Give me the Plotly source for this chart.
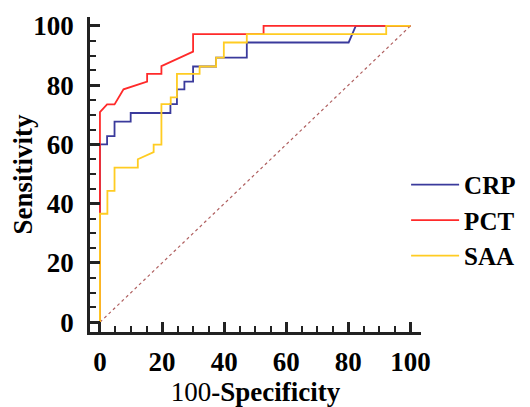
import plotly.graph_objects as go

# Reference (chance) line
ref_x = [0, 100]
ref_y = [0, 100]

# CRP ROC curve (100-Specificity, Sensitivity)
crp_x = [0, 0, 2.3, 2.3, 4.7, 4.7, 9.9, 9.9, 22.7, 22.7, 24.8, 24.8, 27.2, 27.2,
         30.0, 30.0, 37.4, 37.4, 47.3, 47.3, 80.1, 82.4, 100]
crp_y = [0, 60.0, 60.0, 62.8, 62.8, 67.7, 67.7, 70.6, 70.6, 73.6, 73.6, 78.6, 78.6, 81.2,
         81.2, 86.3, 86.3, 89.3, 89.3, 94.4, 94.4, 100, 100]

# PCT ROC curve
pct_x = [0, 0, 2.3, 4.7, 7.6, 15.2, 15.2, 19.8, 19.8, 30.0, 30.0, 52.7, 52.7, 100]
pct_y = [0, 70.9, 73.5, 73.5, 78.6, 81.2, 83.8, 83.8, 86.4, 91.3, 97.2, 97.2, 100, 100]

# SAA ROC curve
saa_x = [0, 0, 2.4, 2.4, 4.7, 4.7, 12.2, 12.2, 17.3, 17.3, 19.8, 19.8, 22.8, 22.8,
         24.8, 24.8, 32.1, 32.1, 37.4, 37.4, 39.9, 39.9, 47.3, 47.3, 92.2, 92.2, 100]
saa_y = [0, 36.6, 36.6, 44.3, 44.3, 52.2, 52.2, 55.0, 57.4, 59.9, 59.9, 73.6, 73.6, 75.9,
         75.9, 83.8, 83.8, 86.3, 86.3, 89.3, 89.3, 94.4, 94.4, 97.2, 97.2, 100, 100]

tick_vals = [0, 20, 40, 60, 80, 100]
tick_text = ["0", "20", "40", "60", "80", "100"]

FONT = "Liberation Serif, Times New Roman, DejaVu Serif, serif"

fig = go.Figure()
fig.add_trace(go.Scatter(x=ref_x, y=ref_y, mode="lines", showlegend=False,
                         line=dict(color="#b06060", width=1.2, dash="dot"),
                         hoverinfo="skip"))
fig.add_trace(go.Scatter(x=crp_x, y=crp_y, mode="lines", name="CRP",
                         line=dict(color="#3a3a9c", width=1.8)))
fig.add_trace(go.Scatter(x=pct_x, y=pct_y, mode="lines", name="PCT",
                         line=dict(color="#ff2a2a", width=1.8)))
fig.add_trace(go.Scatter(x=saa_x, y=saa_y, mode="lines", name="SAA",
                         line=dict(color="#ffcc22", width=1.8)))

axis_common = dict(
    showgrid=False, zeroline=False, showline=True, linecolor="#222222", linewidth=2.5,
    ticks="inside", ticklen=10, tickwidth=2.5, tickcolor="#222222",
    tickvals=tick_vals, ticktext=tick_text, automargin=False,
    tickfont=dict(family=FONT, size=27, color="black", weight="bold"),
    minor=dict(dtick=5, tick0=0, ticks="inside", ticklen=6, tickwidth=1.5, tickcolor="#222222"),
    mirror=False,
)

fig.update_xaxes(range=[-3.2, 103.4], ticklabelstandoff=4,
                 title=dict(text="100<b>-Specificity</b>", standoff=11,
                            font=dict(family=FONT, size=27, color="black")),
                 **axis_common)
fig.update_yaxes(range=[-3.3, 103.0], ticklabelstandoff=8,
                 title=dict(text="<b>Sensitivity</b>", standoff=10,
                            font=dict(family=FONT, size=27, color="black")),
                 **axis_common)

# page body has an 8px margin; size the figure so the plot area lands where the reference has it
fig.update_layout(
    width=522, height=399,
    margin=dict(l=82, r=106, t=9, b=75),
    paper_bgcolor="white", plot_bgcolor="white",
    font=dict(family=FONT),
    legend=dict(x=0.955, y=0.54, xanchor="left", yanchor="top",
                font=dict(family=FONT, size=25, color="black", weight="bold"),
                bgcolor="rgba(0,0,0,0)", itemwidth=48, tracegroupgap=0),
    showlegend=True,
)

fig.write_html("out.html")
